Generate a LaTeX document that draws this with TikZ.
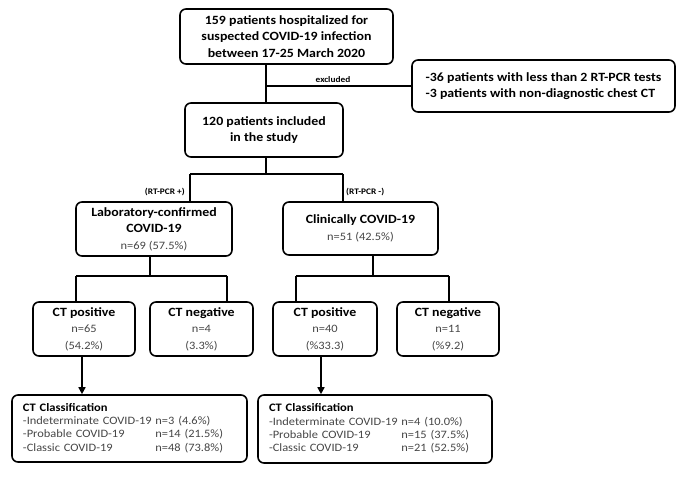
\documentclass[tikz,border=0pt]{standalone}
\usepackage{fontspec}
\setmainfont{Carlito}[FakeStretch=1.1]
\usepackage{tikz}
\usetikzlibrary{arrows.meta}

\definecolor{numgray}{gray}{0.27}
\newcommand{\nval}[1]{{\mdseries\color{numgray}\fontsize{11.3}{13.3}\selectfont #1}}

\begin{document}
\begin{tikzpicture}[x=1pt,y=-1pt]
	\tikzstyle{every node}+=[inner sep=0pt]
	\tikzstyle{box}=[draw, line width=1.6pt, rounded corners=6pt, align=center, font=\bfseries\fontsize{12.6}{16.5}\selectfont]
	\tikzstyle{classbox}=[box, align=left, font=\fontsize{11.4}{13.3}\selectfont]
	\tikzstyle{link}=[line width=1.6pt]
	\tikzstyle{tag}=[font=\bfseries\fontsize{8.5}{9}\selectfont]
	\useasboundingbox (0,0) rectangle (691,478);
	\node [box, minimum width=213pt, minimum height=55pt] (top) at (286.5,36.5) {159 patients hospitalized for\\suspected COVID-19 infection\\between 17-25 March 2020};
	\node [box, align=left, minimum width=263pt, minimum height=52pt] (excl) at (543.5,86) {-36 patients with less than 2 RT-PCR tests\\-3 patients with non-diagnostic chest CT};
	\node [box, minimum width=158pt, minimum height=54pt] (incl) at (264,130) {120 patients included\\in the study};
	\node [box, minimum width=156pt, minimum height=54pt] (lab) at (154,229) {Laboratory-confirmed\\COVID-19\\\nval{n=69 (57.5\%)}};
	\node [box, minimum width=155pt, minimum height=53pt] (clin) at (360.5,228.5) {Clinically COVID-19\\\nval{n=51 (42.5\%)}};
	\node [box, minimum width=102pt, minimum height=54pt] (posA) at (84,329) {CT positive\\\nval{n=65}\\\nval{(54.2\%)}};
	\node [box, minimum width=103pt, minimum height=54pt] (negA) at (201.5,329) {CT negative\\\nval{n=4}\\\nval{(3.3\%)}};
	\node [box, minimum width=104pt, minimum height=54pt] (posB) at (325,329) {CT positive\\\nval{n=40}\\\nval{(\%33.3)}};
	\node [box, minimum width=102pt, minimum height=54pt] (negB) at (448,329) {CT negative\\\nval{n=11}\\\nval{(\%9.2)}};
	\node [classbox, text width=213pt, minimum width=235pt, minimum height=67pt] (classA) at (129.5,428.5) {\begin{tabular}{@{}l@{ }l@{}}
		\multicolumn{2}{@{}l}{\textbf{CT Classification}}\\
		\nval{-Indeterminate COVID-19} & \nval{n=3 (4.6\%)}\\
		\nval{-Probable COVID-19} & \nval{n=14 (21.5\%)}\\
		\nval{-Classic COVID-19} & \nval{n=48 (73.8\%)}
	\end{tabular}};
	\node [classbox, text width=212pt, minimum width=234pt, minimum height=68pt] (classB) at (375,429) {\begin{tabular}{@{}l@{ }l@{}}
		\multicolumn{2}{@{}l}{\textbf{CT Classification}}\\
		\nval{-Indeterminate COVID-19} & \nval{n=4 (10.0\%)}\\
		\nval{-Probable COVID-19} & \nval{n=15 (37.5\%)}\\
		\nval{-Classic COVID-19} & \nval{n=21 (52.5\%)}
	\end{tabular}};
	\coordinate (splitL) at (190,174);
	\coordinate (splitR) at (343,174);
	\coordinate (labL) at (76,276);
	\coordinate (labR) at (227,276);
	\coordinate (clinL) at (296,276);
	\coordinate (clinR) at (449,276);
	\coordinate (clinC) at (373,276);
	\draw [link] (266,0 |- top.south) -- (266,0 |- incl.north);
	\draw [link] (266,0 |- excl.west) -- (excl.west);
	\draw (333,80) node [tag] {excluded};
	\draw [link] (266,0 |- incl.south) -- (266,0 |- splitL);
	\draw [link] (splitL) -- (splitR);
	\draw [link] (splitL) -- (splitL |- lab.north);
	\draw [link] (splitR) -- (splitR |- clin.north);
	\draw (splitL) ++(-5,18) node [tag, anchor=east] {(RT-PCR +)};
	\draw (splitR) ++(3,18) node [tag, anchor=west] {(RT-PCR -)};
	\draw [link] (150,0 |- lab.south) -- (150,0 |- labL);
	\draw [link] (labL) -- (labR);
	\draw [link] (labL) -- (labL |- posA.north);
	\draw [link] (labR) -- (labR |- negA.north);
	\draw [link] (clinC |- clin.south) -- (clinC);
	\draw [link] (clinL) -- (clinR);
	\draw [link] (clinL) -- (clinL |- posB.north);
	\draw [link] (clinR) -- (clinR |- negB.north);
	\draw [link, -{Triangle[width=7pt,length=7pt]}] (82,0 |- posA.south) -- (82,0 |- classA.north);
	\draw [link, -{Triangle[width=7pt,length=7pt]}] (321,0 |- posB.south) -- (321,0 |- classB.north);
\end{tikzpicture}
\end{document}
